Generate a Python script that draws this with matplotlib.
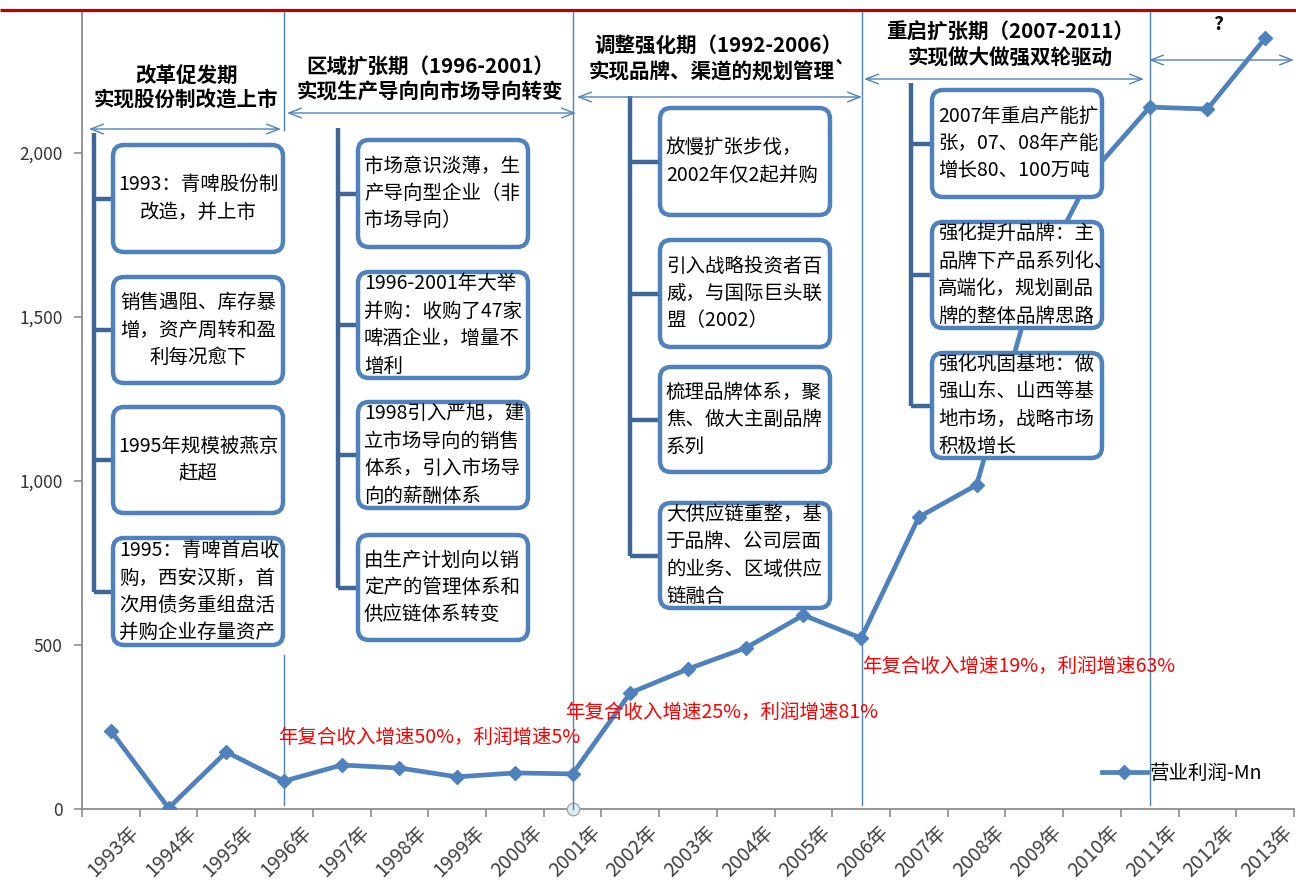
import matplotlib
matplotlib.use("Agg")
import matplotlib.pyplot as plt
from matplotlib.patches import FancyBboxPatch
import matplotlib.ticker as mticker
import matplotlib.transforms as mtrans
import numpy as np

plt.rcParams['font.family'] = ['Noto Sans CJK SC', 'DejaVu Sans']

# ---------------- data ----------------
years = ["1993年", "1994年", "1995年", "1996年", "1997年", "1998年", "1999年",
         "2000年", "2001年", "2002年", "2003年", "2004年", "2005年", "2006年",
         "2007年", "2008年", "2009年", "2010年", "2011年", "2012年", "2013年"]
profit = [238, 3, 174, 85, 134, 125, 98, 110, 107, 354, 427, 491, 591, 521,
          890, 988, 1600, 1940, 2140, 2134, 2350]
series_name = "营业利润-Mn"
yticks = [0, 500, 1000, 1500, 2000]

period_titles = [
    ("改革促发期", "实现股份制改造上市"),
    ("区域扩张期（1996-2001）", "实现生产导向向市场导向转变"),
    ("调整强化期（1992-2006）", "实现品牌、渠道的规划管理`"),
    ("重启扩张期（2007-2011）", "实现做大做强双轮驱动"),
]
future_mark = "?"

p1_texts = ["1993：青啤股份制\n改造，并上市",
            "销售遇阻、库存暴\n增，资产周转和盈\n利每况愈下",
            "1995年规模被燕京\n赶超",
            "1995：青啤首启收\n购，西安汉斯，首\n次用债务重组盘活\n并购企业存量资产"]
p2_texts = ["市场意识淡薄，生\n产导向型企业（非\n市场导向）",
            "1996-2001年大举\n并购：收购了47家\n啤酒企业，增量不\n增利",
            "1998引入严旭，建\n立市场导向的销售\n体系，引入市场导\n向的薪酬体系",
            "由生产计划向以销\n定产的管理体系和\n供应链体系转变"]
p3_texts = ["放慢扩张步伐，\n2002年仅2起并购",
            "引入战略投资者百\n威，与国际巨头联\n盟（2002）",
            "梳理品牌体系，聚\n焦、做大主副品牌\n系列",
            "大供应链重整，基\n于品牌、公司层面\n的业务、区域供应\n链融合"]
p4_texts = ["2007年重启产能扩\n张，07、08年产能\n增长80、100万吨",
            "强化提升品牌：主\n品牌下产品系列化、\n高端化，规划副品\n牌的整体品牌思路",
            "强化巩固基地：做\n强山东、山西等基\n地市场，战略市场\n积极增长"]

growth_notes = ["年复合收入增速50%，利润增速5%",
                "年复合收入增速25%，利润增速81%",
                "年复合收入增速19%，利润增速63%"]

# ---------------- layout ----------------
W, H = 1296, 889
fig = plt.figure(figsize=(W / 100, H / 100), dpi=100)
fig.patch.set_facecolor('white')

ax_l, ax_r, ax_b, ax_t = 82, 1294, 809, 12
ax = fig.add_axes([ax_l / W, (H - ax_b) / H, (ax_r - ax_l) / W, (ax_b - ax_t) / H])

LINE_C = '#4F81BD'
x = np.arange(len(years))
ax.plot(x, profit, color=LINE_C, lw=3.4, marker='D', ms=7.5, mec=LINE_C, mfc=LINE_C,
        label=series_name, zorder=3, solid_joinstyle='miter')
ax.plot([8], [0], marker='o', ms=9, mfc='#DCEEF5', mec='#A6A6A6', mew=1,
        clip_on=False, zorder=4, ls='none')

ax.set_xlim(-0.5, len(years) - 0.5)
ax.set_ylim(0, (ax_b - ax_t) / 0.328)
ax.set_yticks(yticks)
ax.yaxis.set_major_formatter(mticker.StrMethodFormatter('{x:,.0f}'))
ax.set_xticks(x)
ax.set_xticklabels(years, rotation=45, ha='right', va='top', rotation_mode='anchor',
                   fontsize=14, color='#404040')
ax.set_xticks(np.arange(-0.5, len(years), 1), minor=True)
ax.tick_params(axis='x', which='major', length=0, pad=9)
ax.tick_params(axis='x', which='minor', length=6, color='#8C8C8C', width=1.2)
ax.tick_params(axis='y', length=6, color='#8C8C8C', width=1.2, labelsize=12.5,
               labelcolor='#333333', pad=8)
offset = mtrans.ScaledTranslation(17 / 100, 0, fig.dpi_scale_trans)
for lab in ax.get_xticklabels():
    lab.set_transform(lab.get_transform() + offset)
for s in ['top', 'right']:
    ax.spines[s].set_visible(False)
for s in ['left', 'bottom']:
    ax.spines[s].set_color('#8C8C8C')
    ax.spines[s].set_linewidth(1.3)

leg = ax.legend(loc='center left', bbox_to_anchor=(1102 / W, (H - 773) / H),
                bbox_transform=fig.transFigure, frameon=False, fontsize=14,
                borderpad=0, borderaxespad=0, handletextpad=0.15, handlelength=2.3)

# ---------------- overlay (pixel coordinates) ----------------
ov = fig.add_axes([0, 0, 1, 1], zorder=5)
ov.set_xlim(0, W)
ov.set_ylim(H, 0)
ov.axis('off')

# top red rule
ov.plot([0, W], [9.5, 9.5], color='#C00000', lw=2.3, solid_capstyle='butt')

# vertical period separators
VC = '#4F81BD'
for (xx, y0, y1) in [(284, 12, 130), (284, 655, 805), (573, 12, 809),
                     (862, 12, 805), (1150, 12, 805)]:
    ov.plot([xx, xx], [y0, y1], color=VC, lw=1.0)

# double arrows
for (yy, x0, x1) in [(129, 89, 281), (113, 287, 576), (97, 577, 862),
                     (79, 864, 1144), (60, 1149, 1294)]:
    ov.annotate('', xy=(x1, yy), xytext=(x0, yy),
                arrowprops=dict(arrowstyle='<->,head_length=0.9,head_width=0.35',
                                color=VC, lw=1.0, shrinkA=0, shrinkB=0))

# titles
title_pos = [(186, 75, 100), (430, 66, 92), (718, 45, 71), (1010, 32, 58)]
for (t1, t2), (cx, y1, y2) in zip(period_titles, title_pos):
    ov.text(cx, y1, t1, ha='center', va='center', fontsize=14.8, fontweight='bold')
    ov.text(cx, y2, t2, ha='center', va='center', fontsize=14.8, fontweight='bold')
ov.text(1218, 24, future_mark, ha='center', va='center', fontsize=14, fontweight='bold')

# timelines and boxes
TL = '#3E6797'
BOX_E = '#4F81BD'
groups = [
    dict(tx=94, top=133, bx=(113, 283),
         boxes=[(145, 252), (277, 383), (407, 513), (538, 645)],
         texts=p1_texts, align=['center', 'center', 'center', 'left']),
    dict(tx=338, top=128, bx=(358, 528),
         boxes=[(140, 247), (272, 378), (402, 508), (535, 640)],
         texts=p2_texts, align=['left'] * 4),
    dict(tx=630, top=96, bx=(660, 830),
         boxes=[(108, 215), (240, 347), (367, 472), (503, 608)],
         texts=p3_texts, align=['left'] * 4),
    dict(tx=911, top=83, bx=(932, 1102),
         boxes=[(90, 197), (222, 328), (353, 458)],
         texts=p4_texts, align=['left'] * 3),
]
for g in groups:
    tx = g['tx']
    bl, br = g['bx']
    mids = [(a + b) / 2 for a, b in g['boxes']]
    ov.plot([tx, tx], [g['top'], mids[-1]], color=TL, lw=3.2, solid_capstyle='butt', zorder=2)
    for (bt, bb), m, txt, al in zip(g['boxes'], mids, g['texts'], g['align']):
        ov.plot([tx, bl], [m, m], color=TL, lw=3.2, solid_capstyle='butt', zorder=2)
        patch = FancyBboxPatch((bl, bt), br - bl, bb - bt,
                               boxstyle='round,pad=0,rounding_size=11',
                               fc='white', ec=BOX_E, lw=3.2, zorder=3)
        ov.add_patch(patch)
        if al == 'center':
            ov.text((bl + br) / 2, m, txt, ha='center', va='center', multialignment='center',
                    fontsize=14, linespacing=1.4, zorder=4)
        else:
            ov.text(bl + 6, m, txt, ha='left', va='center', multialignment='left',
                    fontsize=14, linespacing=1.4, zorder=4)

# growth notes
for txt, (lx, ly) in zip(growth_notes, [(278, 737), (565, 712), (862, 666)]):
    ov.text(lx, ly, txt, ha='left', va='center', fontsize=14, color='#FF0000', zorder=6)

fig.savefig('out.png', dpi=100)
